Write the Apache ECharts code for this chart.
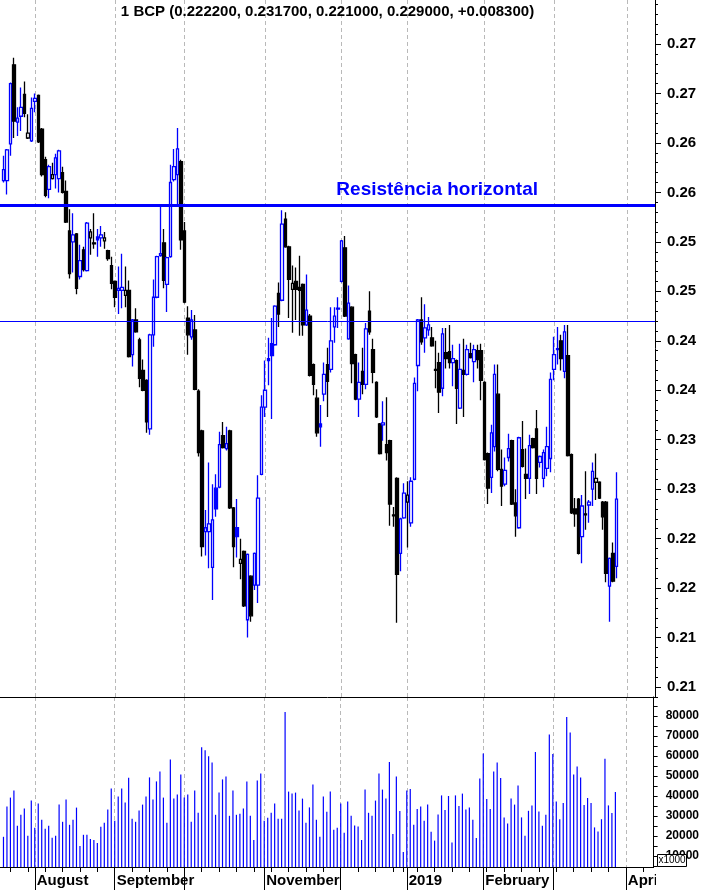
<!DOCTYPE html>
<html>
<head>
<meta charset="utf-8">
<title>BCP</title>
<script src="https://cdn.jsdelivr.net/npm/echarts@6/dist/echarts.min.js"></script>
<style>
  html, body { margin: 0; padding: 0; background: #ffffff; }
  #chart { width: 702px; height: 890px; }
</style>
</head>
<body>
<div id="chart"></div>
<script>
// ---------- daily sessions (EUR) ----------
const firstSession = '2018-07-19';

const opens = [
  .2612,.2612,.2649,.2729,.2671,.2677,.2699,.2655,.2652,.2692,
  .2698,.2664,.2633,.2603,.2614,.2618,.2614,.2620,.2601,.2561,
  .2550,.2558,.2515,.2542,.2521,.2554,.2549,.2555,.2554,.2551,
  .2541,.2526,.2510,.2501,.2501,.2496,.2501,.2436,.2471,.2451,
  .2420,.2410,.2361,.2456,.2494,.2536,.2549,.2507,.2535,.2613,
  .2618,.2631,.2561,.2473,.2454,.2461,.2399,.2359,.2257,.2257,
  .2221,.2301,.2302,.2354,.2341,.2359,.2281,.2261,.2225,.2237,
  .2168,.2212,.2203,.2203,.2315,.2383,.2432,.2447,.2446,.2498,
  .2491,.2573,.2545,.2502,.2510,.2504,.2507,.2466,.2475,.2426,
  .2392,.2366,.2396,.2426,.2421,.2464,.2482,.2510,.2544,.2452,
  .2484,.2436,.2391,.2419,.2406,.2480,.2441,.2408,.2366,.2365,
  .2345,.2349,.2274,.2311,.2235,.2271,.2287,.2266,.2310,.2425,
  .2471,.2453,.2461,.2453,.2421,.2428,.2402,.2438,.2439,.2428,
  .2430,.2382,.2420,.2416,.2437,.2429,.2440,.2440,.2408,.2336,
  .2312,.2343,.2396,.2320,.2305,.2332,.2349,.2286,.2261,.2340,
  .2315,.2311,.2351,.2361,.2327,.2311,.2321,.2331,.2421,.2441,
  .2450,.2419,.2435,.2335,.2280,.2290,.2252,.2275,.2284,.2300,
  .2307,.2307,.2287,.2287,.2202,.2235,.2222
];

const highs = [
  .2637,.2644,.2711,.2736,.2686,.2706,.2712,.2679,.2696,.2700,
  .2699,.2665,.2636,.2628,.2630,.2639,.2643,.2626,.2612,.2583,
  .2579,.2559,.2547,.2545,.2570,.2563,.2579,.2563,.2566,.2560,
  .2542,.2535,.2511,.2525,.2538,.2525,.2511,.2472,.2483,.2453,
  .2431,.2411,.2457,.2512,.2536,.2587,.2563,.2535,.2628,.2644,
  .2665,.2633,.2570,.2485,.2481,.2476,.2401,.2360,.2279,.2327,
  .2305,.2315,.2358,.2368,.2363,.2360,.2282,.2290,.2250,.2238,
  .2235,.2213,.2236,.2314,.2395,.2430,.2453,.2473,.2486,.2509,
  .2582,.2580,.2546,.2526,.2524,.2536,.2508,.2517,.2477,.2427,
  .2401,.2385,.2428,.2443,.2484,.2484,.2494,.2552,.2556,.2506,
  .2485,.2437,.2428,.2443,.2468,.2500,.2452,.2409,.2367,.2389,
  .2393,.2350,.2282,.2312,.2271,.2306,.2308,.2312,.2413,.2472,
  .2494,.2487,.2474,.2464,.2450,.2438,.2463,.2463,.2466,.2446,
  .2431,.2447,.2452,.2446,.2448,.2446,.2446,.2447,.2409,.2337,
  .2365,.2426,.2426,.2340,.2332,.2356,.2350,.2300,.2353,.2369,
  .2341,.2355,.2352,.2380,.2334,.2340,.2363,.2418,.2454,.2464,
  .2456,.2466,.2466,.2336,.2291,.2291,.2294,.2318,.2289,.2327,
  .2336,.2308,.2288,.2288,.2231,.2246,.2317
];

const lows = [
  .2610,.2598,.2637,.2655,.2657,.2662,.2676,.2654,.2651,.2681,
  .2650,.2616,.2595,.2594,.2613,.2604,.2600,.2599,.2569,.2513,
  .2519,.2497,.2512,.2520,.2520,.2537,.2543,.2535,.2545,.2543,
  .2531,.2502,.2484,.2477,.2483,.2484,.2433,.2424,.2458,.2403,
  .2399,.2357,.2355,.2444,.2493,.2535,.2503,.2479,.2534,.2611,
  .2587,.2542,.2488,.2436,.2451,.2400,.2333,.2232,.2233,.2220,
  .2188,.2272,.2301,.2341,.2339,.2280,.2221,.2231,.2209,.2181,
  .2150,.2166,.2198,.2185,.2314,.2373,.2405,.2371,.2445,.2464,
  .2490,.2544,.2473,.2458,.2471,.2455,.2455,.2465,.2414,.2395,
  .2353,.2343,.2389,.2373,.2418,.2448,.2463,.2509,.2474,.2451,
  .2407,.2390,.2373,.2396,.2401,.2456,.2407,.2372,.2335,.2349,
  .2329,.2263,.2262,.2165,.2217,.2270,.2241,.2262,.2309,.2399,
  .2446,.2438,.2455,.2444,.2402,.2377,.2394,.2422,.2422,.2404,
  .2366,.2381,.2373,.2415,.2432,.2408,.2422,.2390,.2329,.2285,
  .2296,.2338,.2318,.2283,.2303,.2328,.2284,.2252,.2260,.2322,
  .2290,.2295,.2341,.2295,.2322,.2302,.2313,.2317,.2410,.2426,
  .2420,.2412,.2333,.2275,.2262,.2234,.2225,.2259,.2266,.2283,
  .2289,.2290,.2259,.2206,.2166,.2206,.2210
];

const closes = [
  .2623,.2643,.2710,.2672,.2675,.2686,.2680,.2660,.2685,.2695,
  .2651,.2618,.2597,.2626,.2618,.2635,.2642,.2600,.2570,.2518,
  .2557,.2503,.2531,.2522,.2569,.2560,.2548,.2552,.2557,.2554,
  .2533,.2508,.2494,.2503,.2504,.2501,.2434,.2471,.2459,.2412,
  .2400,.2368,.2456,.2494,.2535,.2538,.2511,.2534,.2610,.2626,
  .2644,.2552,.2489,.2456,.2471,.2401,.2337,.2242,.2261,.2265,
  .2269,.2280,.2345,.2342,.2346,.2281,.2242,.2252,.2229,.2182,
  .2234,.2172,.2235,.2291,.2383,.2400,.2430,.2435,.2485,.2477,
  .2568,.2545,.2512,.2508,.2502,.2501,.2466,.2481,.2415,.2406,
  .2357,.2363,.2416,.2409,.2450,.2475,.2483,.2551,.2475,.2488,
  .2427,.2391,.2408,.2406,.2462,.2459,.2418,.2373,.2336,.2367,
  .2337,.2285,.2273,.2214,.2270,.2296,.2294,.2308,.2407,.2471,
  .2449,.2463,.2466,.2445,.2420,.2398,.2457,.2432,.2428,.2432,
  .2402,.2421,.2416,.2441,.2433,.2441,.2431,.2410,.2330,.2301,
  .2357,.2416,.2320,.2303,.2319,.2341,.2285,.2273,.2352,.2323,
  .2311,.2344,.2342,.2311,.2333,.2337,.2343,.2411,.2436,.2442,
  .2432,.2459,.2334,.2276,.2275,.2235,.2283,.2274,.2287,.2318,
  .2311,.2291,.2272,.2215,.2230,.2207,.2290
];

// volume, in thousands of shares
const volumes = [
  19600,34700,39200,42700,25100,30600,33700,20100,37700,24100,
  36200,28100,23600,25100,19100,20100,35700,27100,38200,25600,
  28100,34200,15000,20600,20600,18500,18000,16500,24600,26600,
  33200,43700,27600,39700,43700,36700,49100,28600,27100,32700,
  35700,39700,49300,38200,47300,52300,39200,26600,58300,38700,
  40700,50800,39200,40700,27100,42700,31600,64400,62900,59900,
  56800,30600,41700,48300,49800,30100,42700,30600,31100,33700,
  47300,30100,18000,47800,51300,27600,29100,31600,36200,28600,
  28600,82000,42200,41200,41700,32700,38700,26600,34300,45700,
  28100,19600,39700,32100,42200,23100,24100,36200,21600,37200,
  30100,25300,24800,18000,43200,31600,30100,37700,51300,43200,
  38700,57000,21000,49700,32500,12000,42700,43500,25600,33500,
  34800,27600,35800,22100,17700,30800,40300,33000,40000,16800,
  40300,35000,41200,33300,34300,28100,19000,48800,61300,38500,
  33500,52300,56800,49000,29300,26300,38800,35700,45300,29300,
  20100,32600,35300,62000,32200,25100,30600,70700,61000,37200,
  28400,36500,79500,71800,50800,54800,49300,35500,39000,36500,
  24300,22300,28400,58600,35300,31500,42000
];

// ---------- axes ----------
const priceTicks = [0.210, 0.215, 0.220, 0.225, 0.230, 0.235, 0.240, 0.245,
                    0.250, 0.255, 0.260, 0.265, 0.270, 0.275];
const volumeTicks = [10000, 20000, 30000, 40000, 50000, 60000, 70000, 80000];
const monthStarts = ['2018-08-01', '2018-09-03', '2018-10-01', '2018-11-01', '2018-12-03',
                     '2019-01-02', '2019-02-01', '2019-03-01', '2019-04-01'];
const monthLabels = ['August', 'September', '', 'November', '', '2019', 'February', '', 'April'];
const marketHolidays = ['2018-12-25', '2018-12-26', '2019-01-01'];

const resistanceLevel = 0.2587;
const referenceLevel = 0.2470;
const titleText = '1 BCP (0.222200, 0.231700, 0.221000, 0.229000, +0.008300)';
const resistanceText = 'Resistência horizontal';

// ---------- trading calendar ----------
function buildSessions(start, count) {
  const out = [];
  const d = new Date(start + 'T00:00:00Z');
  while (out.length < count) {
    const iso = d.toISOString().slice(0, 10);
    const wd = d.getUTCDay();
    if (wd !== 0 && wd !== 6 && marketHolidays.indexOf(iso) < 0) out.push(iso);
    d.setUTCDate(d.getUTCDate() + 1);
  }
  return out;
}
// one session of margin on the left, free sessions after the last bar on the right
const sessions = buildSessions('2018-07-18', 189);
const offset = sessions.indexOf(firstSession);
const weekday = s => new Date(s + 'T00:00:00Z').getUTCDay();

const BLUE = '#0000ff';
const BLACK = '#000000';

// hollow body when the session closes above its open, colour from the previous close
const candleData = sessions.map((s, k) => {
  const i = k - offset;
  if (i < 0 || i >= opens.length) return ['-', '-', '-', '-'];
  const o = opens[i], c = closes[i];
  const prev = i > 0 ? closes[i - 1] : o;
  const stroke = c >= prev ? BLUE : BLACK;
  const fill = c > o ? '#ffffff' : stroke;
  return {
    value: [o, c, lows[i], highs[i]],
    itemStyle: { color: fill, color0: fill, borderColor: stroke, borderColor0: stroke, borderColorDoji: stroke }
  };
});
const volumeData = sessions.map((s, k) => {
  const i = k - offset;
  return (i < 0 || i >= volumes.length) ? '-' : volumes[i];
});

const isMonthStart = (idx, val) => monthStarts.indexOf(val) >= 0;
const isLabelledMonth = (idx, val) => {
  const m = monthStarts.indexOf(val);
  return m >= 0 && monthLabels[m] !== '';
};
const isWeekStart = (idx) => idx > 0 && weekday(sessions[idx]) <= weekday(sessions[idx - 1]);

const minorPriceTicks = [];
for (let k = 209; k <= 279; k++) minorPriceTicks.push(k / 1000);
const minorVolumeTicks = [];
for (let v = 5000; v <= 85000; v += 5000) minorVolumeTicks.push(v);

const FONT = '"Liberation Sans", Arial, sans-serif';
const gridDash = { color: '#b9b9b9', width: 1, type: [4, 3] };

const chart = echarts.init(document.getElementById('chart'), null, { renderer: 'canvas' });

const option = {
  animation: false,
  backgroundColor: '#ffffff',
  textStyle: { fontFamily: FONT },
  grid: [
    { left: -1.2, right: 47, top: 0, height: 697 },
    { left: -1.2, right: 47, top: 697, height: 170 }
  ],
  xAxis: [
    {
      type: 'category', gridIndex: 0, data: sessions, boundaryGap: false,
      axisLine: { show: true, onZero: false, lineStyle: { color: BLACK, width: 1 } },
      axisTick: { show: false }, axisLabel: { show: false },
      splitLine: { show: true, interval: isMonthStart, lineStyle: gridDash }
    },
    {
      type: 'category', gridIndex: 1, data: sessions, boundaryGap: false, position: 'bottom',
      axisLine: { show: true, onZero: false, lineStyle: { color: BLACK, width: 1 } },
      axisTick: { show: true, interval: isWeekStart, length: 5, lineStyle: { color: BLACK } },
      axisLabel: { show: false },
      splitLine: { show: true, interval: isMonthStart, lineStyle: gridDash }
    },
    {
      type: 'category', gridIndex: 1, data: sessions, boundaryGap: false, position: 'bottom',
      axisLine: { show: false, onZero: false },
      axisTick: { show: true, interval: isMonthStart, length: 23, lineStyle: { color: BLACK } },
      axisLabel: {
        show: true, interval: isLabelledMonth,
        formatter: v => monthLabels[monthStarts.indexOf(v)],
        align: 'left', margin: 6, padding: [0, 0, 0, 2],
        color: BLACK, fontWeight: 'bold', fontSize: 15, fontFamily: FONT
      },
      splitLine: { show: false }
    }
  ],
  yAxis: [
    {
      type: 'value', gridIndex: 0, position: 'right', min: 0.20899, max: 0.27945,
      axisLine: { show: true, lineStyle: { color: BLACK, width: 1 } },
      axisTick: { show: true, customValues: priceTicks, length: 6, lineStyle: { color: BLACK } },
      axisLabel: {
        show: true, customValues: priceTicks, margin: 12,
        formatter: v => (Math.floor(v * 100 + 1e-6) / 100).toFixed(2),
        color: BLACK, fontWeight: 'bold', fontSize: 15, fontFamily: FONT
      },
      splitLine: { show: false }
    },
    {
      type: 'value', gridIndex: 0, position: 'right', min: 0.20899, max: 0.27945,
      axisLine: { show: false },
      axisTick: { show: true, customValues: minorPriceTicks, length: 3, lineStyle: { color: BLACK } },
      axisLabel: { show: false },
      splitLine: { show: false }
    },
    {
      type: 'value', gridIndex: 1, position: 'right', min: 4500, max: 89500, startValue: 4500,
      axisLine: { show: true, lineStyle: { color: BLACK, width: 1 } },
      axisTick: { show: true, customValues: minorVolumeTicks, length: 4, lineStyle: { color: BLACK } },
      axisLabel: {
        show: true, customValues: volumeTicks, margin: 12,
        formatter: v => String(Math.round(v)),
        color: BLACK, fontWeight: 'bold', fontSize: 12, fontFamily: FONT
      },
      splitLine: { show: false }
    }
  ],
  series: [
    {
      name: 'BCP', type: 'candlestick', xAxisIndex: 0, yAxisIndex: 0,
      data: candleData, barWidth: 3,
      itemStyle: { color: '#ffffff', color0: BLACK, borderColor: BLUE, borderColor0: BLACK, borderWidth: 1.3 },
      markLine: {
        silent: true, precision: 4, symbol: ['none', 'none'], label: { show: false },
        data: [
          { yAxis: resistanceLevel, lineStyle: { color: BLUE, width: 3, type: 'solid' } },
          { yAxis: referenceLevel, lineStyle: { color: BLUE, width: 1, type: 'solid' } }
        ]
      }
    },
    {
      name: 'Volume', type: 'bar', xAxisIndex: 1, yAxisIndex: 2,
      data: volumeData, barWidth: 1.2, clip: true,
      itemStyle: { color: BLUE }
    }
  ]
};

chart.setOption(option);

const resistanceY = chart.convertToPixel({ yAxisIndex: 0 }, resistanceLevel);
chart.setOption({
  graphic: [
    {
      type: 'text', x: 327.5, y: 12, z: 50,
      style: { text: titleText, fill: BLACK, font: 'bold 15px ' + FONT, textAlign: 'center', textVerticalAlign: 'middle' }
    },
    {
      type: 'text', x: 538, y: resistanceY - 15.5, z: 50,
      style: { text: resistanceText, fill: BLUE, font: 'bold 19px ' + FONT, textAlign: 'right', textVerticalAlign: 'middle' }
    },
    {
      type: 'rect', z: 100, shape: { x: 656, y: 868, width: 46, height: 22 },
      style: { fill: '#ffffff', stroke: null }
    },
    {
      type: 'rect', z: 101, shape: { x: 657.5, y: 854.5, width: 29, height: 12 },
      style: { fill: '#ffffff', stroke: BLACK, lineWidth: 1 }
    },
    {
      type: 'text', x: 672, y: 860.5, z: 102,
      style: { text: 'x1000', fill: BLACK, font: '10px ' + FONT, textAlign: 'center', textVerticalAlign: 'middle' }
    }
  ]
});
</script>
</body>
</html>
